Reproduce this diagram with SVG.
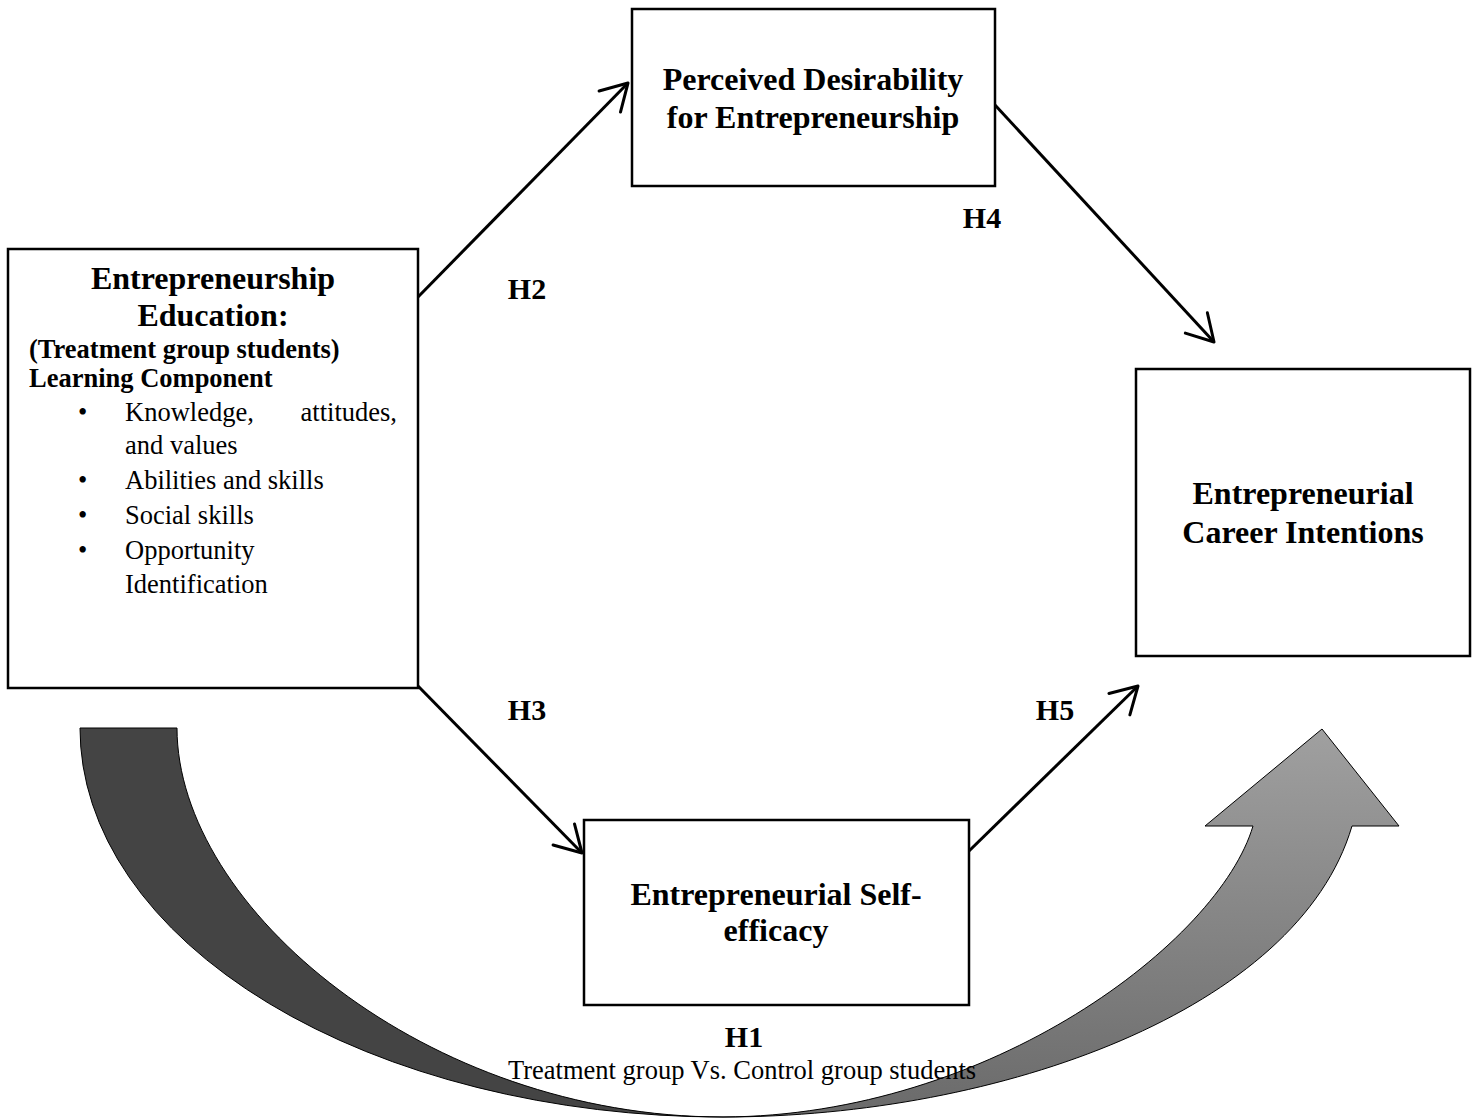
<svg xmlns="http://www.w3.org/2000/svg" width="1472" height="1118" viewBox="0 0 1472 1118">
  <defs>
    <style>
      .box { fill: #ffffff; stroke: #000000; stroke-width: 2.5; }
      .title { font-family: "Liberation Serif", "Times New Roman", serif; font-weight: bold; font-size: 32px; fill: #000; }
      .sub { font-family: "Liberation Serif", "Times New Roman", serif; font-weight: bold; font-size: 26.5px; fill: #000; }
      .item { font-family: "Liberation Serif", "Times New Roman", serif; font-size: 26.5px; fill: #000; }
      .hyp { font-family: "Liberation Serif", "Times New Roman", serif; font-weight: bold; font-size: 30px; fill: #000; }
      .link { fill: none; stroke: #000000; stroke-width: 3; marker-end: url(#open); }
      .band { stroke: #000000; stroke-width: 1; stroke-linejoin: miter; }
    </style>
    <marker id="open" markerUnits="userSpaceOnUse" viewBox="-32 -20 40 40" markerWidth="40" markerHeight="40" refX="0" refY="0" orient="auto" overflow="visible">
      <path d="M-26,-15 L0,0 L-26,15" fill="none" stroke="#000000" stroke-width="3" stroke-linecap="round" stroke-linejoin="round"/>
    </marker>
    <linearGradient id="frontShade" gradientUnits="userSpaceOnUse" x1="0" y1="729" x2="0" y2="1117">
      <stop offset="0" stop-color="#a0a0a0"/>
      <stop offset="1" stop-color="#6a6a6a"/>
    </linearGradient>
  </defs>

  <!-- Curved up arrow (H1): dark back band and shaded front band with head -->
  <g id="curved-arrow">
    <path class="band" fill="#444444" d="M80,728 L177,728 C177,908 427,1117 723,1117 A643,389 0 0 1 80,728 Z"/>
    <path class="band" fill="url(#frontShade)" d="M723,1117 C1000,1117 1298,1010 1352,826 L1399,826 L1322,729 L1205,826 L1253,826 C1219,941 991,1116 723,1117 Z"/>
  </g>

  <!-- Hypothesis connectors -->
  <g id="connectors">
    <line class="link" x1="418" y1="297" x2="628" y2="83"/>
    <line class="link" x1="995" y1="105" x2="1214" y2="342"/>
    <line class="link" x1="418" y1="686" x2="582" y2="853"/>
    <line class="link" x1="969" y1="851" x2="1138" y2="686"/>
  </g>

  <g id="node-education">
    <rect class="box" x="8" y="249" width="410" height="439"/>
    <text class="title" x="213" y="289" text-anchor="middle">Entrepreneurship</text>
    <text class="title" x="213" y="326" text-anchor="middle">Education:</text>
    <text class="sub" x="29" y="358">(Treatment group students)</text>
    <text class="sub" x="29" y="387">Learning Component</text>
    <text class="item" x="78" y="421">•</text>
    <text class="item" x="125" y="421">Knowledge,</text>
    <text class="item" x="397" y="421" text-anchor="end">attitudes,</text>
    <text class="item" x="125" y="454">and values</text>
    <text class="item" x="78" y="489">•</text>
    <text class="item" x="125" y="489">Abilities and skills</text>
    <text class="item" x="78" y="524">•</text>
    <text class="item" x="125" y="524">Social skills</text>
    <text class="item" x="78" y="559">•</text>
    <text class="item" x="125" y="559">Opportunity</text>
    <text class="item" x="125" y="593">Identification</text>
  </g>

  <g id="node-desirability">
    <rect class="box" x="632" y="9" width="363" height="177"/>
    <text class="title" x="813" y="90" text-anchor="middle">Perceived Desirability</text>
    <text class="title" x="813" y="128" text-anchor="middle">for Entrepreneurship</text>
  </g>

  <g id="node-intentions">
    <rect class="box" x="1136" y="369" width="334" height="287"/>
    <text class="title" x="1303" y="504" text-anchor="middle">Entrepreneurial</text>
    <text class="title" x="1303" y="543" text-anchor="middle">Career Intentions</text>
  </g>

  <g id="node-selfefficacy">
    <rect class="box" x="584" y="820" width="385" height="185"/>
    <text class="title" x="776" y="905" text-anchor="middle">Entrepreneurial Self-</text>
    <text class="title" x="776" y="941" text-anchor="middle">efficacy</text>
  </g>

  <g id="labels">
    <text class="hyp" x="527" y="299" text-anchor="middle">H2</text>
    <text class="hyp" x="982" y="228" text-anchor="middle">H4</text>
    <text class="hyp" x="527" y="720" text-anchor="middle">H3</text>
    <text class="hyp" x="1055" y="720" text-anchor="middle">H5</text>
    <text class="hyp" x="744" y="1047" text-anchor="middle" font-size="31">H1</text>
    <text class="item" x="508" y="1079">Treatment group Vs. Control group students</text>
  </g>
</svg>
